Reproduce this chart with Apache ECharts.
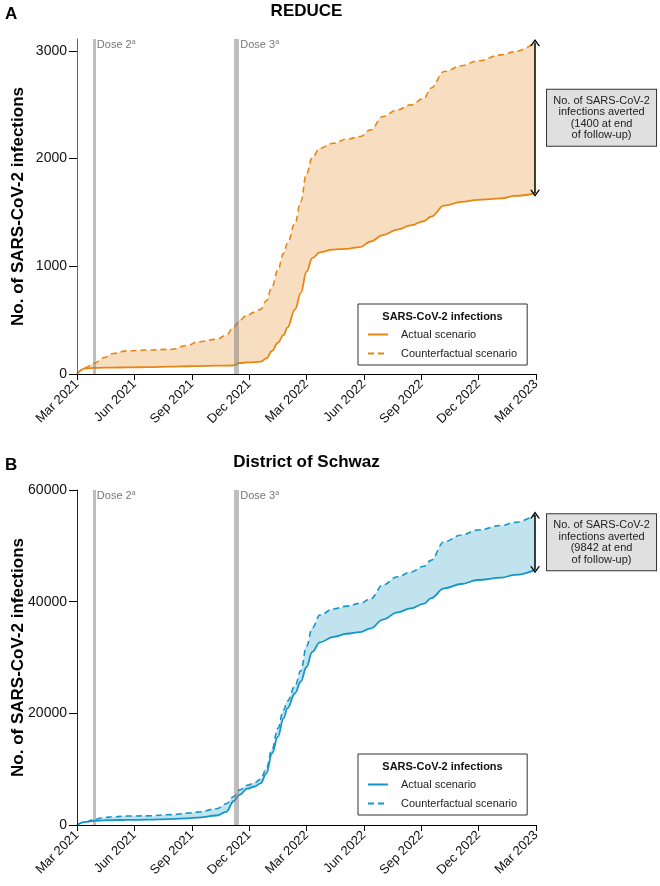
<!DOCTYPE html>
<html><head><meta charset="utf-8">
<script src="https://cdn.jsdelivr.net/npm/echarts@6/dist/echarts.min.js"></script>
<style>html,body{margin:0;padding:0;background:#fff}#c{width:660px;height:886px}</style>
</head><body><div id="c"></div>
<script>
// x tick labels at months 0,3,...,24 after 1 Mar 2021
const xTickLabels = ['Mar 2021','Jun 2021','Sep 2021','Dec 2021','Mar 2022','Jun 2022','Sep 2022','Dec 2022','Mar 2023'];
// sample positions, in months since 1 Mar 2021
const months = [0,0.45,0.9,1.4,1.9,2.6,3.7,4.9,5.8,6.3,7.3,7.8,8.2,8.5,8.9,9.3,9.6,9.9,10.2,10.5,10.8,11.0,11.4,11.7,12.0,12.3,12.7,13.4,14.1,14.8,15.35,16.0,16.75,17.45,18.15,18.5,19.2,20.1,20.95,22.2,22.9,23.95];
// Panel A: REDUCE
const reduceActual = [0,52,56,59,60,61,64,68,72,74,77,78,80,102,107,110,114,145,215,290,360,430,600,750,950,1075,1130,1155,1162,1178,1230,1290,1340,1380,1420,1460,1563,1598,1616,1631,1653,1678];
const reduceCounterfactual = [0,60,100,152,190,215,223,229,265,298,322,360,435,500,548,575,600,680,810,965,1120,1213,1400,1600,1860,2010,2096,2142,2180,2204,2266,2390,2452,2498,2560,2653,2808,2861,2907,2963,2994,3078];
// Panel B: District of Schwaz
const schwazActual = [0,550,760,840,880,910,950,1050,1200,1320,1700,2350,4300,5400,6500,6900,7460,9250,12840,15800,19100,20900,23600,25700,28300,31000,32700,33700,34250,34550,35200,36800,38100,38800,39650,40600,42390,43160,43880,44300,44800,45700];
const schwazCounterfactual = [0,580,980,1330,1480,1600,1640,1850,2120,2300,2900,3800,5100,6300,7100,7600,8180,10100,13600,17300,20600,22200,24900,27600,32000,35300,37600,38700,39200,39700,40500,43000,44450,45300,46350,47400,50750,51940,52830,53650,54200,55540];
const yTicksReduce = [0,1000,2000,3000];
const yTicksSchwaz = [0,20000,40000,60000];
const doseMonths = [0.88, 8.33];
const doseNames = ['Dose 2','Dose 3'];
const avertedReduce = '1400';
const avertedSchwaz = '9842';
const seriesNames = ['Actual scenario','Counterfactual scenario'];

const FONT = '"Liberation Sans", Arial, sans-serif';
const GRID_H = 335;
const panels = [
  {title:'REDUCE', letter:'A', act:reduceActual, cf:reduceCounterfactual, averted:avertedReduce,
   line:'#e88614', fill:'#f8dec0', yMax:3110, yTicks:yTicksReduce, top:39, axisColor:'#666', suffix:'', legendTop:304},
  {title:'District of Schwaz', letter:'B', act:schwazActual, cf:schwazCounterfactual, averted:avertedSchwaz,
   line:'#1496c8', fill:'#c0e3ee', yMax:60000, yTicks:yTicksSchwaz, top:490, axisColor:'#222', suffix:'#B', legendTop:754}
];

const chart = echarts.init(document.getElementById('c'));
const grid = [], xAxis = [], yAxis = [], series = [], title = [], legend = [], graphic = [];
panels.forEach((p, i) => {
  grid.push({left:77, right:124, top:p.top, height:GRID_H, containLabel:false, outerBoundsMode:'none'});
  xAxis.push({type:'value', gridIndex:i, min:0, max:24, interval:3, z:10,
    axisLine:{lineStyle:{color:'#000', width:1}},
    axisTick:{length:6, lineStyle:{color:'#000'}},
    splitLine:{show:false},
    axisLabel:{rotate:45, fontSize:13, color:'#111', fontFamily:FONT, margin:8,
      formatter: v => xTickLabels[Math.round(v/3)]}});
  yAxis.push({type:'value', gridIndex:i, min:0, max:p.yMax, z:10,
    name:'No. of SARS-CoV-2 infections', nameLocation:'middle', nameGap:50, nameMoveOverlap:false,
    nameTextStyle:{fontSize:17, fontWeight:'bold', color:'#000', fontFamily:FONT},
    axisLine:{show:true, lineStyle:{color:p.axisColor}},
    axisTick:{show:true, length:8, customValues:p.yTicks, lineStyle:{color:'#000'}},
    splitLine:{show:false},
    axisLabel:{fontSize:14, color:'#111', fontFamily:FONT, margin:10, customValues:p.yTicks,
      formatter: v => String(v)}});
  const n = months.length;
  const lastM = months[n-1], lastA = p.act[n-1], lastC = p.cf[n-1];
  // counterfactual: dashed line, filled down to the axis
  series.push({type:'line', name:seriesNames[1]+p.suffix, xAxisIndex:i, yAxisIndex:i,
    data: months.map((m,k)=>[m, p.cf[k]]), symbol:'none', smooth:0.4, smoothMonotone:'x',
    lineStyle:{color:p.line, width:1.6, type:[6,4]}, itemStyle:{color:p.line},
    areaStyle:{color:p.fill, opacity:1}, z:3, silent:true});
  // actual: solid line, white fill below so only the averted band stays coloured
  series.push({type:'line', name:seriesNames[0]+p.suffix, xAxisIndex:i, yAxisIndex:i,
    data: months.map((m,k)=>[m, p.act[k]]), symbol:'none', smooth:0.4, smoothMonotone:'x',
    lineStyle:{color:p.line, width:1.8}, itemStyle:{color:p.line},
    areaStyle:{color:'#ffffff', opacity:1}, z:4, silent:true});
  // dose reference lines
  series.push({type:'line', name:'dose'+i, xAxisIndex:i, yAxisIndex:i, data:[], z:5, silent:true,
    markLine:{silent:true, symbol:['none','none'], animation:false,
      data: doseMonths.map((m,k)=>({xAxis:m,
        lineStyle:{color:'rgba(125,125,125,0.5)', width:k===0?3:5, type:'solid'},
        label:{show:true, position:'end', distance:0, align:'left', verticalAlign:'top', padding:[0,0,0,k===0?3:4],
          formatter:'{a|'+doseNames[k]+'}{s|a}',
          rich:{a:{fontSize:11, color:'#777', fontFamily:FONT, lineHeight:12}, s:{fontSize:7, color:'#777', fontFamily:FONT, verticalAlign:'top', lineHeight:12}}}}))}});
  // averted arrow + annotation
  const chev = 'path://M0,10L5,0L10,10L8.4,10L5,3.2L1.6,10Z';
  series.push({type:'line', name:'annot'+i, xAxisIndex:i, yAxisIndex:i, data:[], z:6, silent:true,
    markLine:{silent:true, animation:false, symbol:[chev, chev], symbolSize:[10,7],
      lineStyle:{color:'#000', width:1.5, type:'solid'}, label:{show:false},
      data:[[{coord:[lastM, lastA]}, {coord:[lastM, lastC]}]]},
    markPoint:{silent:true, animation:false, symbol:'circle', symbolSize:0,
      data:[{coord:[lastM, (lastA+lastC)/2],
        label:{show:true, position:'right', distance:12,
          backgroundColor:'#e0e0e0', borderColor:'#333', borderWidth:1, padding:[5,5],
          formatter:['{t|No. of SARS-CoV-2}','{t|infections averted}','{t|('+p.averted+' at end}','{t|of follow-up)}'].join('\n'),
          rich:{t:{fontSize:11, color:'#222', fontFamily:FONT, width:99, align:'center', lineHeight:11.5}}}}]}});
  title.push({text:p.title, left:306.5, textAlign:'center', top:p.top-36, padding:0,
    textStyle:{fontSize:17, fontWeight:'bold', color:'#000', fontFamily:FONT}});
  title.push({text:p.letter, left:5, top:p.top-33, padding:0,
    textStyle:{fontSize:17, fontWeight:'bold', color:'#000', fontFamily:FONT}});
  legend.push({data:[seriesNames[0]+p.suffix, seriesNames[1]+p.suffix],
    left:358, top:p.legendTop, z:20,
    orient:'vertical', itemWidth:20, itemHeight:12, itemGap:8, selectedMode:false,
    itemStyle:{color:'rgba(0,0,0,0)', borderColor:'rgba(0,0,0,0)', borderWidth:0},
    borderColor:'#333', borderWidth:1, padding:[25,10,6,9], backgroundColor:'#fff',
    formatter: nm => nm.split('#')[0],
    textStyle:{fontSize:11, color:'#222', fontFamily:FONT, padding:[0,0,0,8]}});
  graphic.push({type:'text', x:442.5, y:p.legendTop+13, z:100,
    style:{text:'SARS-CoV-2 infections', font:'bold 11px '+FONT, fill:'#111', align:'center', verticalAlign:'middle'}});
});

chart.setOption({animation:false, backgroundColor:'#fff', title, grid, xAxis, yAxis, series, legend, graphic});
</script></body></html>
